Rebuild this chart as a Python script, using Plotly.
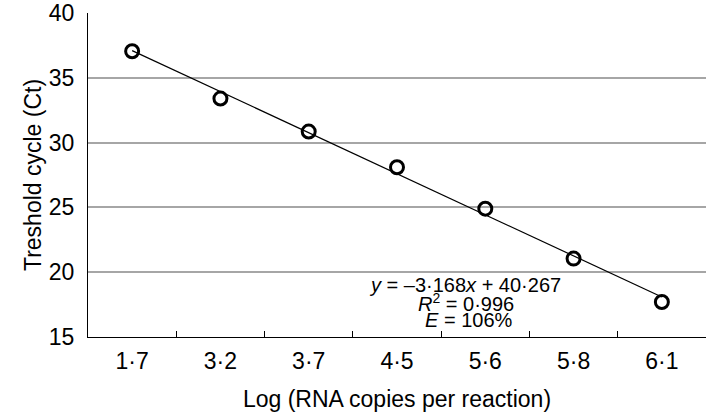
import plotly.graph_objects as go

categories = ["1·7", "3·2", "3·7", "4·5", "5·6", "5·8", "6·1"]
ct_values = [37.05, 33.4, 30.85, 28.1, 24.9, 21.05, 17.7]
slope = -3.168
intercept = 40.267
r_squared = "0·996"
efficiency = "106%"
y_ticks = [15, 20, 25, 30, 35, 40]

FONT = "Liberation Sans, Arial, Helvetica, sans-serif"

trend_x = [categories[0], categories[-1]]
trend_y = [slope * 1 + intercept, slope * len(categories) + intercept]

fig = go.Figure()
fig.add_trace(go.Scatter(
    x=trend_x, y=trend_y, mode="lines",
    line=dict(color="black", width=1.2), showlegend=False, hoverinfo="skip"))
fig.add_trace(go.Scatter(
    x=categories, y=ct_values, mode="markers",
    marker=dict(symbol="circle-open", size=13, color="black",
                line=dict(color="black", width=3)),
    showlegend=False))

ann_font = dict(family=FONT, size=20, color="black")
fig.add_annotation(xref="paper", yref="paper", x=0.610, y=0.162,
                   text="<i>y</i> = –3·168<i>x</i> + 40·267", showarrow=False,
                   font=ann_font, xanchor="center", yanchor="middle")
fig.add_annotation(xref="paper", yref="paper", x=0.612, y=0.108,
                   text="<i>R</i><sup>2</sup> = " + r_squared, showarrow=False,
                   font=ann_font, xanchor="center", yanchor="middle")
fig.add_annotation(xref="paper", yref="paper", x=0.617, y=0.052,
                   text="<i>E</i> = " + efficiency, showarrow=False,
                   font=ann_font, xanchor="center", yanchor="middle")

fig.update_layout(
    width=709, height=413,
    margin=dict(l=88, r=3, t=13, b=76),
    paper_bgcolor="white", plot_bgcolor="white",
    font=dict(family=FONT, size=23, color="black"),
    xaxis=dict(
        type="category", categoryorder="array", categoryarray=categories,
        range=[-0.5, len(categories) - 0.5],
        showline=True, linecolor="black", linewidth=1.2,
        ticks="inside", ticklen=6, tickcolor="black", tickwidth=1.2,
        tickson="boundaries", showgrid=False, automargin=False,
        ticklabelstandoff=3,
        tickfont=dict(family=FONT, size=23),
        title=dict(text="Log (RNA copies per reaction)", font=dict(family=FONT, size=23), standoff=18),
    ),
    yaxis=dict(
        range=[15, 40], tickvals=y_ticks, automargin=False,
        showline=True, linecolor="black", linewidth=1.2,
        showgrid=True, gridcolor="#a6a6a6", gridwidth=1.5,
        ticks="", ticklen=0, ticklabelstandoff=8,
        tickfont=dict(family=FONT, size=23),
        title=dict(text="Treshold cycle (Ct)", font=dict(family=FONT, size=23), standoff=0),
        zeroline=False,
    ),
)

fig.write_html("out.html", config={"displayModeBar": False},
               post_script="document.body.style.margin='0px';")
